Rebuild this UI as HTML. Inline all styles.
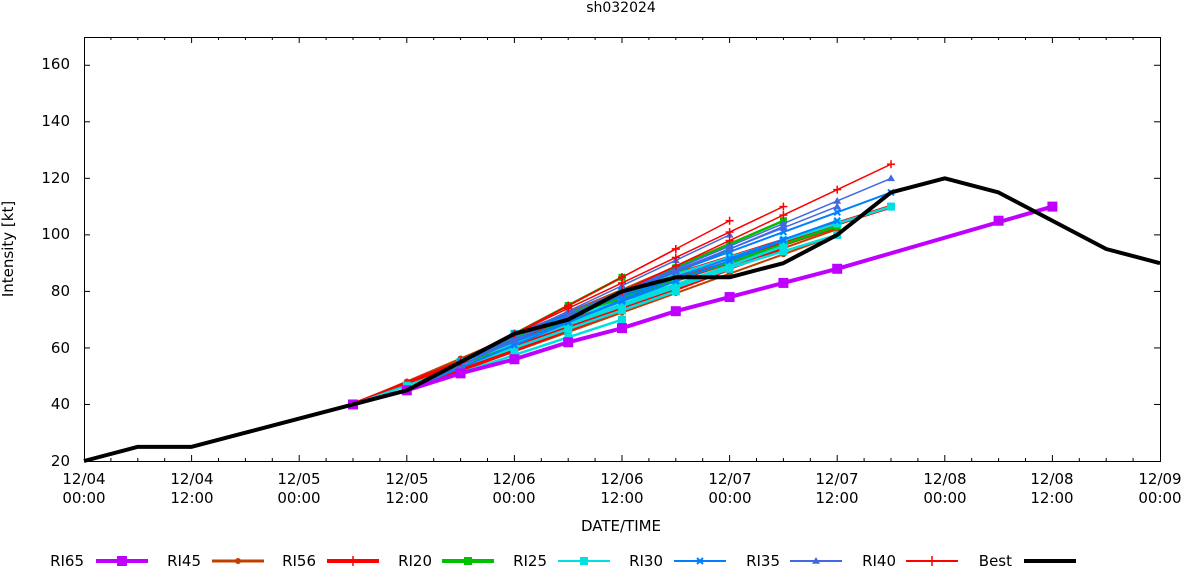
<!DOCTYPE html>
<html><head><meta charset="utf-8"><style>
html,body{margin:0;padding:0;background:#fff;}
svg{display:block;font-family:"DejaVu Sans","Liberation Sans",sans-serif;}
</style></head><body>
<svg id="s" width="1182" height="567" viewBox="0 0 1182 567" xmlns="http://www.w3.org/2000/svg">
<rect width="1182" height="567" fill="#fff"/>
<text x="621" y="12" font-size="14" text-anchor="middle">sh032024</text>
<g id="ticks" stroke="#000" stroke-width="1"></g>
<g id="series"></g>
<rect x="84.5" y="37.5" width="1076" height="424" fill="none" stroke="#000" stroke-width="1"/>
<g font-size="15" text-anchor="end">
<text x="70" y="466">20</text><text x="70" y="409">40</text><text x="70" y="353">60</text>
<text x="70" y="296">80</text><text x="70" y="239">100</text><text x="70" y="183">120</text>
<text x="70" y="126">140</text><text x="70" y="69">160</text>
</g>
<g font-size="15" text-anchor="middle">
<text x="84" y="484">12/04</text><text x="84" y="503">00:00</text>
<text x="192" y="484">12/04</text><text x="192" y="503">12:00</text>
<text x="299" y="484">12/05</text><text x="299" y="503">00:00</text>
<text x="407" y="484">12/05</text><text x="407" y="503">12:00</text>
<text x="514" y="484">12/06</text><text x="514" y="503">00:00</text>
<text x="622" y="484">12/06</text><text x="622" y="503">12:00</text>
<text x="730" y="484">12/07</text><text x="730" y="503">00:00</text>
<text x="837" y="484">12/07</text><text x="837" y="503">12:00</text>
<text x="945" y="484">12/08</text><text x="945" y="503">00:00</text>
<text x="1052" y="484">12/08</text><text x="1052" y="503">12:00</text>
<text x="1160" y="484">12/09</text><text x="1160" y="503">00:00</text>
<text x="621" y="531">DATE/TIME</text>
<text transform="translate(13,249) rotate(-90)">Intensity [kt]</text>
</g>
<g font-size="15" text-anchor="end">
<text x="84" y="566">RI65</text><text x="201" y="566">RI45</text><text x="316" y="566">RI56</text>
<text x="432" y="566">RI20</text><text x="547" y="566">RI25</text><text x="663" y="566">RI30</text>
<text x="780" y="566">RI35</text><text x="896" y="566">RI40</text><text x="1012" y="566">Best</text>
</g>
<g id="leg"></g>
</svg>
<script>
var NS="http://www.w3.org/2000/svg";
function X(h){return 84+h*1076/120;}
function Y(v){return 461-(v-20)*424/150;}
function el(p,t,a){var e=document.createElementNS(NS,t);for(var k in a)e.setAttribute(k,a[k]);p.appendChild(e);return e;}
var tk=document.getElementById('ticks');
for(var h=3;h<120;h+=3){var L=(h%12==0)?6:3;el(tk,'line',{x1:X(h),x2:X(h),y1:461,y2:461-L});el(tk,'line',{x1:X(h),x2:X(h),y1:37,y2:37+L});}
for(var v=40;v<170;v+=20){el(tk,'line',{x1:84,x2:90,y1:Y(v),y2:Y(v)});el(tk,'line',{x1:1160,x2:1154,y1:Y(v),y2:Y(v)});}
var S=document.getElementById('series');
function marker(g,x,y,m,c,sz){
 if(m=='sq')el(g,'rect',{x:x-sz,y:y-sz,width:2*sz,height:2*sz,fill:c});
 else if(m=='+'){el(g,'line',{x1:x-sz,x2:x+sz,y1:y,y2:y,stroke:c,'stroke-width':1.5});el(g,'line',{x1:x,x2:x,y1:y-sz,y2:y+sz,stroke:c,'stroke-width':1.5});}
 else if(m=='tri')el(g,'polygon',{points:(x)+','+(y-sz)+' '+(x-sz)+','+(y+sz*0.7)+' '+(x+sz)+','+(y+sz*0.7),fill:c});
 else if(m=='x'){el(g,'line',{x1:x-sz,x2:x+sz,y1:y-sz,y2:y+sz,stroke:c,'stroke-width':2});el(g,'line',{x1:x-sz,x2:x+sz,y1:y+sz,y2:y-sz,stroke:c,'stroke-width':2});}
 else if(m=='dot')el(g,'circle',{cx:x,cy:y,r:sz,fill:c});
}
function line(c,w,m,sz,pts){var g=el(S,'g',{});var d=pts.map(function(p){return X(p[0])+','+Y(p[1]);}).join(' ');
 el(g,'polyline',{points:d,fill:'none',stroke:c,'stroke-width':w,'stroke-linejoin':'round'});
 if(m)pts.forEach(function(p){marker(g,X(p[0]),Y(p[1]),m,c,sz);});}
function fan(c,w,m,sz,h0,v0,h1,v1){var p=[];for(var h=h0;h<=h1;h+=6)p.push([h,v0+(v1-v0)*(h-h0)/(h1-h0)]);line(c,w,m,sz,p);}
var brown='#c04000',red='#ff0000',green='#00c000',cyan='#00e0e0',dblue='#0080ff',rblue='#4169e1';
fan(brown,2,'dot',3,30,40,78,105);fan(brown,2,'dot',3,48,65,90,110);fan(brown,2,'dot',3,36,45,84,100);fan(brown,2,'dot',3,42,55,84,102);
fan(red,4,'+',4,36,45,60,75);fan(red,4,'+',4,42,55,78,95);fan(red,4,'+',4,48,65,84,103);fan(red,4,'+',4,60,80,90,110);fan(red,4,'+',4,36,45,72,88);fan(red,4,'+',4,30,40,66,85);
fan(green,2.5,'sq',3.5,36,45,60,85);fan(green,2.5,'sq',3.5,42,55,78,105);fan(green,2.5,'sq',3.5,48,65,84,103);fan(green,2.5,'sq',3.5,36,45,72,95);
fan(cyan,2.5,'sq',4,36,45,60,70);fan(cyan,2.5,'sq',4,42,55,72,88);fan(cyan,2.5,'sq',4,48,65,84,100);fan(cyan,2.5,'sq',4,60,80,90,110);fan(cyan,2.5,'sq',4,42,55,78,96);fan(cyan,2.5,'sq',4,30,40,66,80);
fan(dblue,2,'x',3,42,55,72,95);fan(dblue,2,'x',3,48,65,84,105);fan(dblue,2,'x',3,60,80,90,115);fan(dblue,2,'x',3,36,45,66,85);fan(dblue,2,'x',3,42,55,78,98);
fan(rblue,1.5,'tri',4,42,55,72,100);fan(rblue,1.5,'tri',4,48,65,84,110);fan(rblue,1.5,'tri',4,60,80,90,120);fan(rblue,1.5,'tri',4,36,45,60,80);fan(rblue,1.5,'tri',4,42,55,78,103);
fan(red,1.5,'+',4,42,55,72,105);fan(red,1.5,'+',4,48,65,78,110);fan(red,1.5,'+',4,60,80,90,125);fan(red,1.5,'+',4,36,45,66,95);
line('#c000ff',4,null,0,[[30,40],[36,45],[42,51],[48,56],[54,62],[60,67],[66,73],[72,78],[78,83],[84,88],[108,110]]);
var pg=S.lastChild;[[30,40],[36,45],[42,51],[48,56],[54,62],[60,67],[66,73],[72,78],[78,83],[84,88],[102,105],[108,110]].forEach(function(p){marker(pg,X(p[0]),Y(p[1]),'sq','#c000ff',5);});
var best=[20,25,25,30,35,40,45,55,65,70,80,85,85,90,100,115,120,115,105,95,90];
line('#000',4,null,0,best.map(function(v,i){return [i*6,v];}));
var lg=document.getElementById('leg');
var items=[['#c000ff',4,'sq',5],[brown,3,'dot',3],[red,4,'+',5],[green,4,'sq',4],[cyan,2,'sq',4],[dblue,2,'x',3],[rblue,2,'tri',4],[red,2,'+',5],['#000',4,null,0]];
var xs=[96,212,327,442,558,674,790,906,1024];
items.forEach(function(it,i){var g=el(lg,'g',{});el(g,'line',{x1:xs[i],x2:xs[i]+52,y1:561,y2:561,stroke:it[0],'stroke-width':it[1]});if(it[2])marker(g,xs[i]+26,561,it[2],it[0],it[3]);});
</script>
</body></html>
